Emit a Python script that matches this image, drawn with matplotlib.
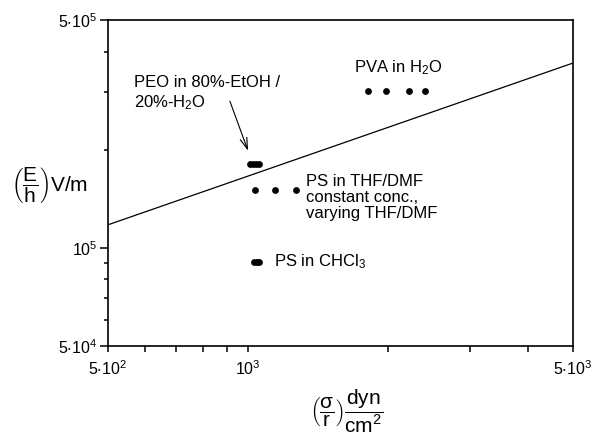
import numpy as np
import matplotlib
matplotlib.use("Agg")
import matplotlib.pyplot as plt

plt.rcParams['font.family'] = ['Liberation Sans', 'DejaVu Sans']
plt.rcParams['mathtext.fontset'] = 'custom'
plt.rcParams['mathtext.rm'] = 'Liberation Sans'
plt.rcParams['mathtext.it'] = 'Liberation Sans:italic'
plt.rcParams['mathtext.bf'] = 'Liberation Sans:bold'
plt.rcParams['mathtext.default'] = 'regular'

# data (sigma/r in dyn/cm^2, E/h in V/m)
peo_x = [1010, 1025, 1040, 1056]
peo_y = [1.81e5, 1.81e5, 1.81e5, 1.81e5]
ps_thf_x = [1035, 1143, 1268]
ps_thf_y = [1.51e5, 1.51e5, 1.51e5]
pva_x = [1812, 1982, 2219, 2403]
pva_y = [3.03e5, 3.03e5, 3.03e5, 3.03e5]
ps_chcl3_x = [1030, 1045, 1058]
ps_chcl3_y = [9.05e4, 9.05e4, 9.05e4]
line_x = [500, 5000]
line_y = [1.177e5, 3.69e5]

xticks = [500, 1000, 5000]
xticklabels = [r'$5{\cdot}10^{2}$', r'$10^{3}$', r'$5{\cdot}10^{3}$']
yticks = [5e4, 1e5, 5e5]
yticklabels = [r'$5{\cdot}10^{4}$', r'$10^{5}$', r'$5{\cdot}10^{5}$']

fig = plt.figure(figsize=(5.99, 4.41), dpi=100)
ax = fig.add_axes([0.1803, 0.2154, 0.7763, 0.7392])

ax.plot(line_x, line_y, color="k", lw=0.9)
ms = 24
for xs, ys in [(peo_x, peo_y), (ps_thf_x, ps_thf_y), (pva_x, pva_y), (ps_chcl3_x, ps_chcl3_y)]:
    ax.scatter(xs, ys, s=ms, color="k", lw=0, zorder=3)

ax.set_xscale("log")
ax.set_yscale("log")
ax.set_xlim(500, 5000)
ax.set_ylim(5e4, 5e5)

ax.set_xticks(xticks, xticklabels)
ax.set_yticks(yticks, yticklabels)
ax.set_xticks([600, 700, 800, 900, 2000, 3000, 4000], minor=True)
ax.set_yticks([6e4, 7e4, 8e4, 9e4, 2e5, 3e5, 4e5], minor=True)
ax.set_xticklabels([], minor=True)
ax.set_yticklabels([], minor=True)
ax.tick_params(axis="both", which="both", direction="out", width=1.1, labelsize=11.5)
ax.tick_params(axis="x", which="both", length=4.5, pad=5)
ax.tick_params(axis="y", which="major", length=5.5, pad=2)
ax.tick_params(axis="y", which="minor", length=3)

for s in ["top", "right", "bottom", "left"]:
    ax.spines[s].set_linewidth(1.2)

fs = 12
ax.text(569, 2.97e5, "PEO in 80%-EtOH /\n20%-H$_2$O", fontsize=fs, va="center", ha="left", linespacing=1.25)
ax.annotate("", xy=(1005, 1.95e5), xytext=(910, 2.87e5),
            arrowprops=dict(arrowstyle="->,head_length=0.8,head_width=0.25", color="k", lw=0.8))
ax.text(1690, 3.56e5, "PVA in H$_2$O", fontsize=fs, va="center", ha="left")
ax.text(1333, 1.43e5, "PS in THF/DMF\nconstant conc.,\nvarying THF/DMF", fontsize=fs,
        va="center", ha="left", linespacing=1.1)
ax.text(1137, 9.05e4, "PS in CHCl$_3$", fontsize=fs, va="center", ha="left")

fig.text(0.083, 0.58, r'$\left(\dfrac{E}{h}\right)$V/m', fontsize=15, ha="center", va="center")
fig.text(0.579, 0.066, r'$\left(\dfrac{\mathrm{σ}}{r}\right)\dfrac{dyn}{cm^{2}}$', fontsize=15,
         ha="center", va="center")

fig.savefig("out.png", dpi=100)
